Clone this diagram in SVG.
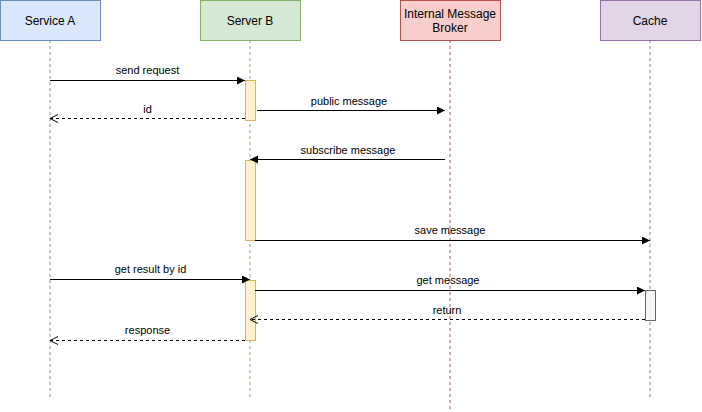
<svg xmlns="http://www.w3.org/2000/svg" width="702" height="412" viewBox="0 0 702 412">
<style>
text{font-family:"Liberation Sans",Arial,Helvetica,sans-serif;fill:#000}
.t{font-size:12px;text-anchor:middle}
.l{font-size:11px;text-anchor:middle}
.life{fill:none;stroke-dasharray:3 3;stroke-width:1}
.msg{fill:none;stroke:#000;stroke-width:1}
.ret{fill:none;stroke:#000;stroke-width:1;stroke-dasharray:3 3}
.act{fill:#fff2cc;stroke:#d6b656;stroke-width:1}
</style>
<defs>
<marker id="fill" markerWidth="10" markerHeight="10" refX="8" refY="4" orient="auto" markerUnits="userSpaceOnUse">
<path d="M0,0 L8,4 L0,8 Z" fill="#000"/>
</marker>
<marker id="open" markerWidth="12" markerHeight="12" refX="9" refY="5" orient="auto" markerUnits="userSpaceOnUse">
<path d="M1,1 L9,5 L1,9" fill="none" stroke="#000" stroke-width="1"/>
</marker>
</defs>
<g id="serviceA">
<line class="life" x1="50" y1="40" x2="50" y2="397" stroke="#6c8ebf"/>
<rect x="0.5" y="0.5" width="100" height="40" fill="#dae8fc" stroke="#6c8ebf"/>
<text class="t" x="50" y="25">Service A</text>
</g>
<g id="serverB">
<line class="life" x1="250" y1="40" x2="250" y2="397" stroke="#82b366"/>
<rect x="200.5" y="0.5" width="100" height="40" fill="#d5e8d4" stroke="#82b366"/>
<text class="t" x="250" y="25">Server B</text>
<rect class="act" x="245.5" y="80.5" width="10" height="40"/>
<rect class="act" x="245.5" y="160.5" width="10" height="80"/>
<rect class="act" x="245.5" y="280.5" width="10" height="60"/>
</g>
<g id="broker">
<line class="life" x1="450" y1="40" x2="450" y2="410" stroke="#b85450"/>
<rect x="400.5" y="0.5" width="100" height="40" fill="#f8cecc" stroke="#b85450"/>
<text class="t" x="450" y="18">Internal Message</text>
<text class="t" x="450" y="32">Broker</text>
</g>
<g id="cache">
<line class="life" x1="650" y1="40" x2="650" y2="397" stroke="#9673a6"/>
<rect x="600.5" y="0.5" width="100" height="40" fill="#e1d5e7" stroke="#9673a6"/>
<text class="t" x="650" y="25">Cache</text>
<rect x="645.5" y="290.5" width="10" height="30" fill="#f5f5f5" stroke="#666666"/>
</g>
<g id="connectors">
<line class="msg" x1="50" y1="80.5" x2="245" y2="80.5" marker-end="url(#fill)"/>
<text class="l" x="147.5" y="74">send request</text>
<line class="ret" x1="245" y1="118.5" x2="50" y2="118.5" marker-end="url(#open)"/>
<text class="l" x="147.5" y="113">id</text>
<line class="msg" x1="257" y1="110.5" x2="445" y2="110.5" marker-end="url(#fill)"/>
<text class="l" x="349" y="105">public message</text>
<line class="msg" x1="445" y1="159.5" x2="250" y2="159.5" marker-end="url(#fill)"/>
<text class="l" x="348" y="154">subscribe message</text>
<line class="msg" x1="255" y1="240.5" x2="650" y2="240.5" marker-end="url(#fill)"/>
<text class="l" x="450" y="234">save message</text>
<line class="msg" x1="50" y1="279.5" x2="250" y2="279.5" marker-end="url(#fill)"/>
<text class="l" x="150.5" y="273">get result by id</text>
<line class="msg" x1="255" y1="290.5" x2="645" y2="290.5" marker-end="url(#fill)"/>
<text class="l" x="448" y="284">get message</text>
<line class="ret" x1="645" y1="319.5" x2="250" y2="319.5" marker-end="url(#open)" stroke="#666"/>
<text class="l" x="447" y="314">return</text>
<line class="ret" x1="245" y1="340.5" x2="50" y2="340.5" marker-end="url(#open)"/>
<text class="l" x="147.5" y="334">response</text>
</g>
</svg>
